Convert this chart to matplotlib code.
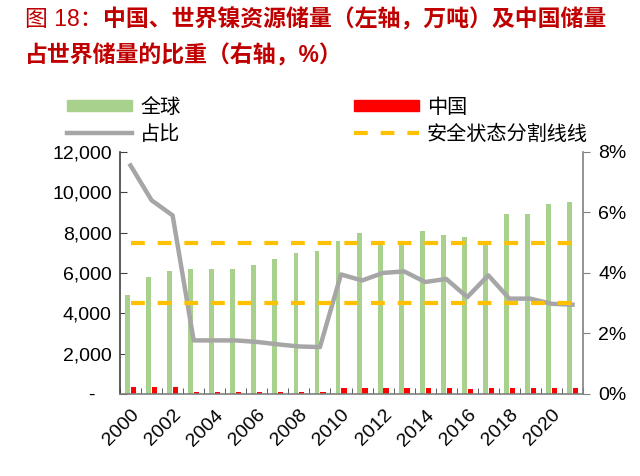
import numpy as np
import matplotlib
matplotlib.use("Agg")
from matplotlib import pyplot as plt
from matplotlib.lines import Line2D
from matplotlib.patches import Patch
from matplotlib.ticker import FuncFormatter, FixedLocator

plt.rcParams['font.family'] = ['Liberation Sans', 'Noto Sans CJK SC', 'DejaVu Sans']

years = list(range(2000, 2022))
world = [4900, 5800, 6100, 6200, 6200, 6200, 6400, 6700, 7000, 7100, 7600,
         8000, 7500, 7400, 8100, 7900, 7800, 7400, 8900, 8900, 9400, 9500]
china = [370, 370, 360, 110, 110, 110, 110, 110, 110, 110, 300,
         300, 300, 300, 300, 300, 250, 290, 280, 280, 280, 280]
share = [7.55, 6.4, 5.9, 1.77, 1.77, 1.77, 1.72, 1.64, 1.57, 1.55, 3.95,
         3.75, 4.0, 4.05, 3.7, 3.8, 3.2, 3.92, 3.15, 3.15, 2.98, 2.95]
safe_lines = [5, 3]

green = '#A9D18E'
red = '#FF0000'
gray = '#A6A6A6'
gold = '#FFC000'
title_red = '#C00000'
dash = (3.3, 3.1)

fig = plt.figure(figsize=(6.4, 4.76), dpi=100)
ax = fig.add_axes([0.1875, 0.1723, 0.7235, 0.5087])
ax2 = ax.twinx()

x = np.arange(len(years))
ax.bar(x - 0.14, world, width=0.23, color=green, zorder=2)
ax.bar(x + 0.14, china, width=0.25, color=red, zorder=2)

ax2.plot(x, share, color=gray, lw=3.2, zorder=3)
for v in safe_lines:
    ax2.plot(x, [v] * len(x), color=gold, lw=3, dashes=dash, zorder=4)

ax.set_xlim(-0.5, len(years) - 0.5)
ax.set_ylim(0, 12000)
ax2.set_ylim(0, 8)
ax.set_yticks(range(0, 12001, 2000))
ax.yaxis.set_major_formatter(FuncFormatter(lambda v, p: '-   ' if v == 0 else f'{int(v):,}'))
ax2.set_yticks(range(0, 9, 2))
ax2.yaxis.set_major_formatter(FuncFormatter(lambda v, p: f'{int(v)}%'))

ax.set_xticks(x[::2])
ax.set_xticklabels([str(y) for y in years[::2]], rotation=45, ha='right',
                   rotation_mode='anchor', fontsize=14)
ax.xaxis.set_minor_locator(FixedLocator(np.arange(-0.5, len(years), 1)))
ax.tick_params(axis='x', which='major', length=0, pad=9)
ax.tick_params(axis='x', which='minor', direction='in', length=4, color='#404040')
ax.tick_params(axis='y', direction='in', length=5, labelsize=14, color='#404040', pad=6)
ax2.tick_params(axis='y', direction='out', length=5, labelsize=14, color='#808080', pad=6)

for a in (ax, ax2):
    a.spines['top'].set_visible(False)
ax2.spines['left'].set_visible(False)
ax2.spines['bottom'].set_visible(False)
ax.spines['right'].set_visible(False)
ax.spines['left'].set_color('#404040')
ax.spines['bottom'].set_color('#808080')
ax2.spines['right'].set_color('#808080')
ax.spines['left'].set_linewidth(1.2)
ax.spines['bottom'].set_linewidth(1.2)
ax2.spines['right'].set_linewidth(1.2)

handles = [Patch(color=green), Line2D([], [], color=gray, lw=3.2),
           Patch(color=red), Line2D([], [], color=gold, lw=3, dashes=dash)]
labels = ['全球', '占比', '中国', '安全状态分割线线']
fig.legend(handles, labels, ncol=2, loc='upper left', bbox_to_anchor=(0.104, 0.795),
           frameon=False, fontsize=14.5, handlelength=3.25, handleheight=0.5,
           columnspacing=8.6, labelspacing=0.4, handletextpad=0.4,
           borderaxespad=0, borderpad=0)

fig.text(0.039, 0.983, '图 18：', color=title_red, fontsize=16.5, va='top')
fig.text(0.161, 0.983, '中国、世界镍资源储量（左轴，万吨）及中国储量',
         color=title_red, fontsize=16.5, fontweight='bold', va='top')
fig.text(0.039, 0.907, '占世界储量的比重（右轴，%）', color=title_red,
         fontsize=16.5, fontweight='bold', va='top')

fig.savefig('out.png', dpi=100)
